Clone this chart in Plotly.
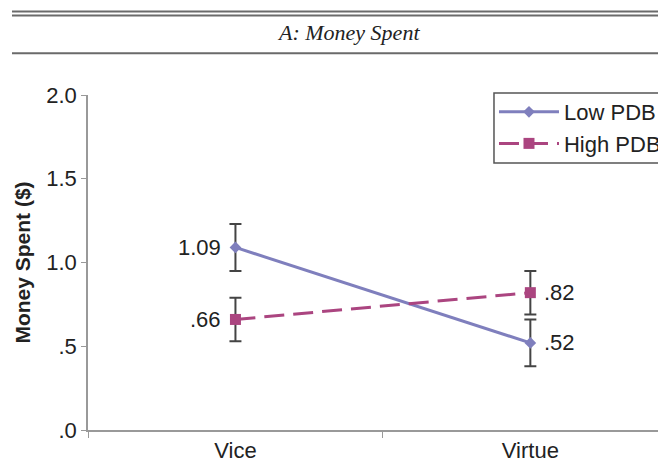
import plotly.graph_objects as go

conditions = ["Vice", "Virtue"]
low_pdb = [1.09, 0.52]
low_err = [0.14, 0.14]
high_pdb = [0.66, 0.82]
high_err = [0.13, 0.13]
low_labels = ["1.09", ".52"]
high_labels = [".66", ".82"]
y_ticks = [0, 0.5, 1.0, 1.5, 2.0]
y_tick_text = [".0", ".5", "1.0", "1.5", "2.0"]

LOW_COLOR = "#7f7fbd"
HIGH_COLOR = "#ab4580"
FONT = "Liberation Sans, Arial, sans-serif"

fig = go.Figure()

fig.add_trace(go.Scatter(
    x=conditions, y=low_pdb, name="Low PDB",
    mode="lines+markers",
    line=dict(color=LOW_COLOR, width=3),
    marker=dict(symbol="diamond", size=9, color=LOW_COLOR),
    error_y=dict(type="data", array=low_err, color="#444444", thickness=2, width=6),
))

fig.add_trace(go.Scatter(
    x=conditions, y=high_pdb, name="High PDB",
    mode="lines+markers",
    line=dict(color=HIGH_COLOR, width=3, dash="20px,9px"),
    marker=dict(symbol="square", size=11, color=HIGH_COLOR),
    error_y=dict(type="data", array=high_err, color="#444444", thickness=2, width=6),
))

# value labels: left of the Vice points, right of the Virtue points
for vals, labels in [(low_pdb, low_labels), (high_pdb, high_labels)]:
    for i, (cond, v, lab) in enumerate(zip(conditions, vals, labels)):
        left = i == 0
        fig.add_annotation(x=cond, y=v, text=lab, showarrow=False,
                           xanchor="right" if left else "left",
                           xshift=-12 if left else 12,
                           font=dict(size=22, family=FONT, color="#222222"))

# rules and panel title above the plot
rule = dict(type="line", xref="paper", yref="paper", x0=-0.1315, x1=1.0,
            line=dict(color="#6a6a6a", width=2))
fig.add_shape(**rule, y0=1.249, y1=1.249)
fig.add_shape(**rule, y0=1.237, y1=1.237)
fig.add_shape(**rule, y0=1.125, y1=1.125)
fig.add_annotation(x=0.451, y=1.188, xref="paper", yref="paper", showarrow=False,
                   yanchor="middle", text="<i>A: Money Spent</i>",
                   font=dict(family="Liberation Serif, Times New Roman, serif", size=22, color="#222222"))

# legend frame runs off the right edge, like the cropped original
fig.add_shape(type="rect", xref="paper", yref="paper", x0=0.7024, x1=1.05,
              y0=0.797, y1=1.006, line=dict(color="#555555", width=1.5),
              fillcolor="white", layer="below")

# page has an 8px body margin, so the figure is 8px smaller than the window
fig.update_layout(
    width=658, height=454,
    margin=dict(l=80, r=0, t=87, b=32, autoexpand=False),
    paper_bgcolor="white", plot_bgcolor="white",
    font=dict(family=FONT, color="#222222"),
    showlegend=True,
    legend=dict(x=0.7024, y=1.012, xanchor="left", yanchor="top",
                borderwidth=0, bgcolor="rgba(0,0,0,0)",
                font=dict(size=22, family=FONT, color="#222222"),
                tracegroupgap=0, itemwidth=60),
    xaxis=dict(type="category", range=[-0.5, 1.46], showline=True, linecolor="#999999",
               linewidth=1.5, ticks="outside", tickson="boundaries", ticklen=6,
               tickcolor="#999999", tickfont=dict(size=22, family=FONT), showgrid=False,
               zeroline=False),
    yaxis=dict(range=[0, 2.0], tickvals=y_ticks, ticktext=y_tick_text, showline=True,
               linecolor="#999999", linewidth=1.5, ticks="outside", ticklen=5,
               tickcolor="#999999", tickfont=dict(size=22, family=FONT),
               showgrid=False, zeroline=False,
               title=dict(text="<b>Money Spent ($)</b>", font=dict(size=21, family=FONT),
                          standoff=10)),
)

fig.write_html("out.html")
